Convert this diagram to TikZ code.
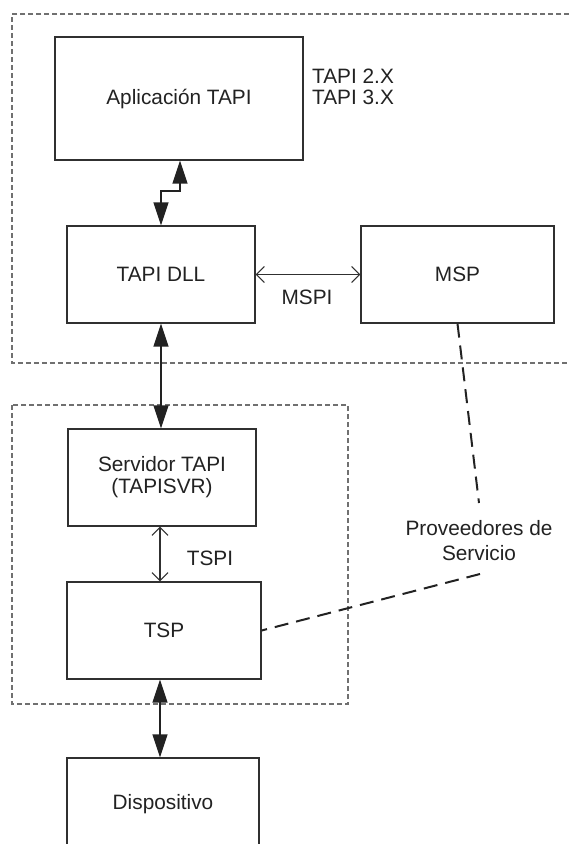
\documentclass[tikz,border=0pt]{standalone}
\usepackage{fontspec}
\setmainfont{Liberation Sans}
\usetikzlibrary{arrows.meta}
\definecolor{ink}{HTML}{222222}
\definecolor{edge}{HTML}{303030}
\definecolor{zone}{HTML}{707070}
\tikzset{
  box/.style={draw=edge, line width=1.3pt, fill=white, inner sep=0pt, text=ink,
    align=center, font=\fontsize{20.8}{22}\selectfont},
  lbl/.style={text=ink, inner sep=0pt, align=center, font=\fontsize{20.8}{22}\selectfont},
  zoneline/.style={draw=zone, line width=1.2pt, dash pattern=on 5pt off 3pt},
  bigarrow/.style={draw=ink, line width=1.4pt,
    {Triangle[length=23pt,width=15pt]}-{Triangle[length=23pt,width=15pt]}},
  thinarrow/.style={draw=edge, line width=1.1pt,
    {Straight Barb[length=8pt,width=16pt]}-{Straight Barb[length=8pt,width=16pt]}},
  provline/.style={draw=ink, line width=2pt, dash pattern=on 14pt off 8pt}
}
\begin{document}
\begin{tikzpicture}[x=1pt,y=-1pt]
  \clip (0,0) rectangle (569,844);
  \fill[white] (0,0) rectangle (569,844);

  % regions
  \draw[zoneline] (569,14) -- (12,14) -- (12,363) -- (569,363);
  \draw[zoneline] (12,405) rectangle (348,704);

  % components
  \node[box, minimum width=248pt, minimum height=123pt] (app) at (179,98.5) {Aplicación TAPI};
  \node[box, minimum width=188pt, minimum height=97pt] (dll) at (161,274.5) {TAPI DLL};
  \node[box, minimum width=193pt, minimum height=97pt] (msp) at (457.5,274.5) {MSP};
  \node[box, minimum width=188pt, minimum height=97pt] (srv) at (162,477.5) {Servidor TAPI\\(TAPISVR)};
  \node[box, minimum width=194pt, minimum height=97pt] (tsp) at (164,630.5) {TSP};
  \node[box, minimum width=192pt, minimum height=92pt] (dev) at (163,804) {Dispositivo};

  % labels
  \node[lbl, anchor=west, align=left] (ver) at (312,86.5) {TAPI 2.X\\[-1pt]TAPI 3.X};
  \node[lbl] (mspi) at (307,297) {MSPI};
  \node[lbl] (tspi) at (210,558) {TSPI};
  \node[lbl] (prov) at (479,540.5) {Proveedores de\\[3.5pt]Servicio};

  % interfaces
  \coordinate (j1) at (180,191);
  \coordinate (j2) at (161,191);
  \draw[bigarrow] (app.south -| j1) -- (j1) -- (j2) -- (dll.north -| j2);
  \draw[bigarrow] (dll.south) -- (dll.south |- srv.north);
  \draw[thinarrow] (dll.east) -- (msp.west);
  \coordinate (tx) at (160,0);
  \draw[thinarrow] (srv.south -| tx) -- (tsp.north -| tx);
  \draw[bigarrow] (tsp.south -| tx) -- (dev.north -| tx);

  % service providers
  \coordinate (p1) at (479,503);
  \coordinate (p2) at (480,574);
  \draw[provline] (msp.south) -- (p1);
  \draw[provline] (p2) -- (tsp.east);
\end{tikzpicture}
\end{document}
